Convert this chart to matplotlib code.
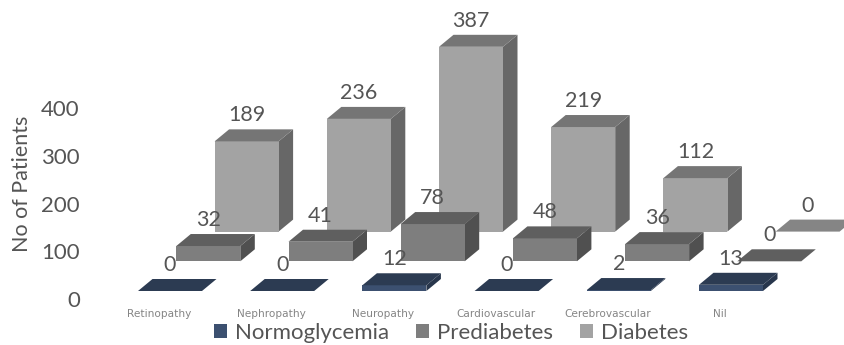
import matplotlib
matplotlib.use("Agg")
import matplotlib.pyplot as plt
from matplotlib.patches import Polygon, Patch

categories = ["Retinopathy", "Nephropathy", "Neuropathy", "Cardiovascular", "Cerebrovascular", "Nil"]
normoglycemia = [0, 0, 12, 0, 2, 13]
prediabetes = [32, 41, 78, 48, 36, 0]
diabetes = [189, 236, 387, 219, 112, 0]
y_ticks = [0, 100, 200, 300, 400]

W, H = 844, 345
PX_PER_CAT = 112.2
PX_PER_VAL = 0.4775
X0_PX, Y0_PX = 138.0, 291.0

# Oblique projection, expressed in data units
BAR_W = 64 / PX_PER_CAT
DEPTH_X = 14.5 / PX_PER_CAT
DEPTH_Y = 12 / PX_PER_VAL
ROW_X = 38.3 / PX_PER_CAT
ROW_Y = 29.7 / PX_PER_VAL
LABEL_GAP = 26 / PX_PER_VAL

TEXT = "#555555"
FONT = "Lato"

# (values, row index, front, top, side, legend name)
series = [
    (diabetes, 2, "#A3A3A3", "#757575", "#676767", "Diabetes"),
    (prediabetes, 1, "#7E7E7E", "#5F5F5F", "#505050", "Prediabetes"),
    (normoglycemia, 0, "#3C5070", "#2C3B52", "#28364C", "Normoglycemia"),
]
# The empty Nil bar in the back row is lighter than the other lids
empty_top = {2: "#858585", 1: "#5F5F5F", 0: "#2C3B52"}

fig = plt.figure(figsize=(W / 100, H / 100), dpi=100, facecolor="white")
ax = fig.add_axes([0, 0, 1, 1])
ax.set_xlim(-X0_PX / PX_PER_CAT, (W - X0_PX) / PX_PER_CAT)
ax.set_ylim((Y0_PX - H) / PX_PER_VAL, Y0_PX / PX_PER_VAL)
ax.axis("off")


def draw_bar(i, value, row, front, top, side):
    x = i + row * ROW_X
    y = row * ROW_Y
    t = y + value
    if value > 0:
        ax.add_patch(Polygon([(x + BAR_W, y), (x + BAR_W + DEPTH_X, y + DEPTH_Y),
                              (x + BAR_W + DEPTH_X, t + DEPTH_Y), (x + BAR_W, t)],
                             facecolor=side, edgecolor="none"))
        ax.add_patch(Polygon([(x, y), (x + BAR_W, y), (x + BAR_W, t), (x, t)],
                             facecolor=front, edgecolor="none"))
    lid = top if value > 0 else empty_top[row]
    ax.add_patch(Polygon([(x, t), (x + BAR_W, t), (x + BAR_W + DEPTH_X, t + DEPTH_Y),
                          (x + DEPTH_X, t + DEPTH_Y)], facecolor=lid, edgecolor="none"))


for values, row, front, top, side, _ in series:
    for i, v in enumerate(values):
        draw_bar(i, v, row, front, top, side)

for values, row, *_ in series:
    for i, v in enumerate(values):
        ax.text(i + row * ROW_X + BAR_W / 2, row * ROW_Y + v + LABEL_GAP, str(v),
                ha="center", va="center", fontsize=15.5, color=TEXT, family=FONT)

for i, name in enumerate(categories):
    ax.text(i + 21 / PX_PER_CAT, (Y0_PX - 314) / PX_PER_VAL, name, ha="center", va="center",
            fontsize=7.6, color="#858585", family="DejaVu Sans")

# Value axis sits on its own scale, a little below the floor of the front row
tick_ax = fig.add_axes([84 / W, 1 - 299 / H, 1 / W, (299 - 108) / H])
tick_ax.set_ylim(0, 400)
tick_ax.set_xticks([])
tick_ax.set_yticks(y_ticks)
tick_ax.tick_params(axis="y", length=0, pad=3, labelsize=16, labelcolor=TEXT)
for lab in tick_ax.get_yticklabels():
    lab.set_family(FONT)
for s in tick_ax.spines.values():
    s.set_visible(False)
tick_ax.patch.set_alpha(0)

fig.text(22 / W, 1 - 184 / H, "No of Patients", rotation=90, ha="center", va="center",
         fontsize=15.5, color=TEXT, family=FONT)

handles = [Patch(facecolor=s[2], edgecolor="none", label=s[5]) for s in reversed(series)]
ax.legend(handles=handles, loc="center", bbox_to_anchor=(451 / W, 1 - 333 / H),
          bbox_transform=fig.transFigure, ncol=3, frameon=False,
          prop={"family": FONT, "size": 16}, labelcolor=TEXT,
          handlelength=0.6, handleheight=0.6, handletextpad=0.35, columnspacing=1.2,
          borderpad=0, borderaxespad=0)

fig.savefig("out.png", dpi=100)
